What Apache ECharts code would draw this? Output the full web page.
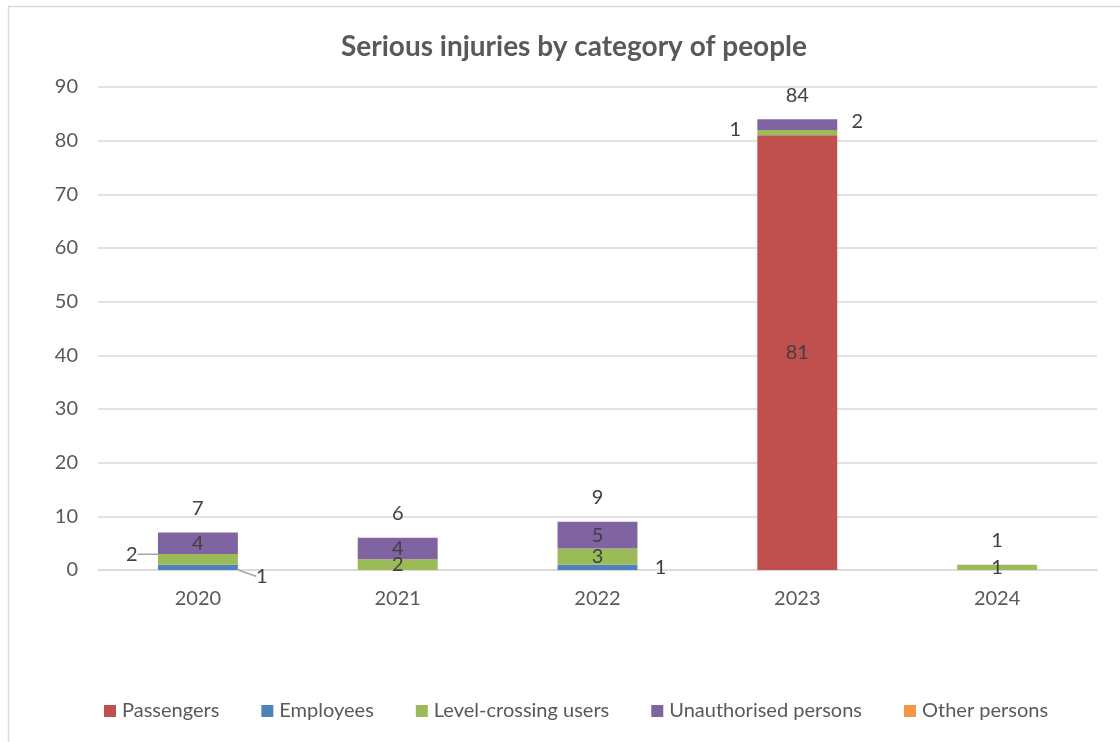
<!DOCTYPE html>
<html>
<head>
<meta charset="utf-8">
<script src="https://cdn.jsdelivr.net/npm/echarts@6/dist/echarts.min.js"></script>
<style>
html,body{margin:0;padding:0;background:#fff;}
#chart{width:1120px;height:742px;}
</style>
</head>
<body>
<div id="chart"></div>
<script>
const years = ['2020', '2021', '2022', '2023', '2024'];
const passengers = [null, null, null, 81, null];
const employees = [1, null, 1, null, null];
const levelCrossing = [2, 2, 3, 1, 1];
const unauthorised = [4, 4, 5, 2, null];
const otherPersons = [null, null, null, null, null];
const totals = [7, 6, 9, 84, 1];
const yTicks = [0, 10, 20, 30, 40, 50, 60, 70, 80, 90];

const seriesDefs = [
  { name: 'Passengers', data: passengers, color: '#C0504D' },
  { name: 'Employees', data: employees, color: '#4F81BD' },
  { name: 'Level-crossing users', data: levelCrossing, color: '#9BBB59' },
  { name: 'Unauthorised persons', data: unauthorised, color: '#8064A2' },
  { name: 'Other persons', data: otherPersons, color: '#F79646' }
];

// label displacement (style only), keyed by "seriesIndex-dataIndex"
const labelMoves = {
  '1-0': { dx: 64, dy: 9, line: true },
  '2-0': { dx: -66, dy: -5, line: true },
  '1-2': { dx: 63, dy: 0, line: false },
  '2-3': { dx: -62, dy: -3, line: false },
  '3-3': { dx: 60, dy: -3, line: false }
};

const FONT = 'Lato, "Liberation Sans", sans-serif';
const FS = 20;

const series = seriesDefs.map((s, si) => ({
  name: s.name,
  type: 'bar',
  stack: 'total',
  barWidth: '40%',
  itemStyle: { color: s.color },
  label: {
    show: true,
    position: 'inside',
    color: '#404040',
    fontSize: FS,
    fontFamily: FONT,
    formatter: p => (p.value == null ? '' : String(p.value))
  },
  labelLine: { show: true, lineStyle: { color: '#A6A6A6', width: 1.5 } },
  labelLayout: function (params) {
    const m = labelMoves[si + '-' + params.dataIndex];
    if (m) return { dx: m.dx, dy: m.dy };
    return {};
  },
  data: s.data.map((v, di) => {
    const m = labelMoves[si + '-' + di];
    if (m && !m.line) return { value: v, labelLine: { show: false } };
    return v;
  })
}));

series.push({
  name: 'Total',
  type: 'scatter',
  data: totals,
  symbol: 'circle',
  symbolSize: 2,
  itemStyle: { color: 'rgba(0,0,0,0)' },
  silent: true,
  label: {
    show: true,
    position: 'top',
    distance: 13,
    color: '#404040',
    opacity: 1,
    fontSize: FS,
    fontFamily: FONT
  },
  z: 5
});

const chart = echarts.init(document.getElementById('chart'));
chart.setOption({
  animation: false,
  backgroundColor: '#fff',
  textStyle: { fontFamily: FONT },
  graphic: [{
    type: 'rect',
    shape: { x: 8.5, y: 6.5, width: 1130, height: 760 },
    style: { fill: 'none', stroke: '#D9D9D9', lineWidth: 1.5 },
    silent: true,
    z: -10
  }],
  title: {
    text: 'Serious injuries by category of people',
    left: 569,
    top: 28,
    textAlign: 'center',
    textStyle: { fontSize: 28, fontWeight: 'bold', color: '#595959', fontFamily: FONT }
  },
  legend: {
    data: seriesDefs.map(s => s.name),
    bottom: 16,
    left: 99,
    itemWidth: 12,
    itemHeight: 12,
    itemGap: 42,
    icon: 'rect',
    textStyle: { fontSize: FS, color: '#595959', fontFamily: FONT, padding: [0, 0, 0, 1] }
  },
  grid: { left: 98, right: 23, top: 87, bottom: 172 },
  xAxis: {
    type: 'category',
    data: years,
    axisLine: { lineStyle: { color: '#D9D9D9', width: 1.5 } },
    axisTick: { show: false },
    axisLabel: { color: '#595959', fontSize: FS, margin: 19, fontFamily: FONT }
  },
  yAxis: {
    type: 'value',
    min: yTicks[0],
    max: yTicks[yTicks.length - 1],
    interval: yTicks[1] - yTicks[0],
    axisLine: { show: false },
    axisTick: { show: false },
    splitLine: { lineStyle: { color: '#D9D9D9', width: 1.5 } },
    axisLabel: { color: '#595959', fontSize: FS, margin: 20, fontFamily: FONT }
  },
  series: series
});
</script>
</body>
</html>
